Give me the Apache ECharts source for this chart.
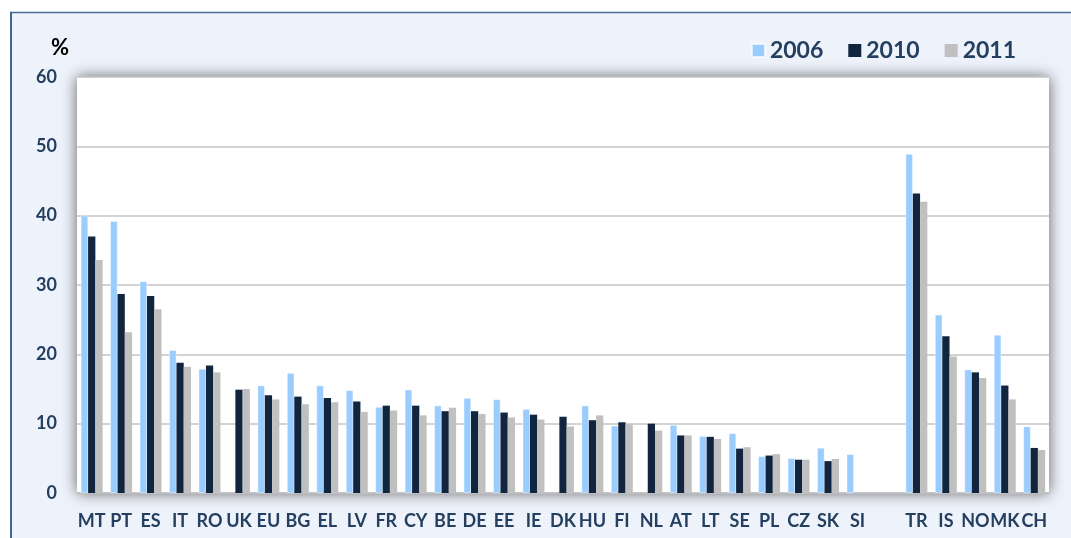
<!DOCTYPE html>
<html>
<head>
<meta charset="utf-8">
<script src="https://cdn.jsdelivr.net/npm/echarts@6/dist/echarts.min.js"></script>
<style>
  html, body { margin: 0; padding: 0; background: #fff; }
  #chart { width: 1071px; height: 538px; }
</style>
</head>
<body>
<div id="chart"></div>
<script>
// countries, with one empty slot between SI and TR
var categories = ['MT', 'PT', 'ES', 'IT', 'RO', 'UK', 'EU', 'BG', 'EL', 'LV', 'FR', 'CY', 'BE', 'DE', 'EE', 'IE', 'DK', 'HU', 'FI', 'NL', 'AT', 'LT', 'SE', 'PL', 'CZ', 'SK', 'SI', '', 'TR', 'IS', 'NO', 'MK', 'CH'];
var years = ['2006', '2010', '2011'];

var values2006 = [40.0, 39.2, 30.5, 20.6, 17.9, null, 15.5, 17.3, 15.5, 14.8, 12.4, 14.9, 12.6, 13.7, 13.5, 12.1, null, 12.6, 9.7, null, 9.8, 8.2, 8.6, 5.3, 5.0, 6.5, 5.6, null, 48.9, 25.7, 17.8, 22.8, 9.6];
var values2010 = [37.0, 28.7, 28.4, 18.8, 18.4, 14.9, 14.1, 13.9, 13.7, 13.2, 12.6, 12.6, 11.8, 11.8, 11.6, 11.3, 11.0, 10.5, 10.2, 10.0, 8.3, 8.1, 6.4, 5.4, 4.8, 4.6, null, null, 43.2, 22.6, 17.4, 15.5, 6.5];
var values2011 = [33.6, 23.2, 26.5, 18.2, 17.4, 15.0, 13.5, 12.8, 13.1, 11.7, 11.9, 11.2, 12.3, 11.4, 10.9, 10.6, 9.6, 11.2, 9.9, 9.0, 8.3, 7.8, 6.6, 5.6, 4.8, 4.9, null, null, 42.0, 19.7, 16.6, 13.5, 6.2];

var colors = ['#99CCFF', '#11253F', '#C0C0C0'];
var textColor = '#243F60';

var myChart = echarts.init(document.getElementById('chart'));

function makeSeries(name, data, idx) {
  return {
    name: name,
    type: 'bar',
    data: data,
    barGap: '0%',
    barCategoryGap: '26%',
    itemStyle: {
      color: colors[idx],
      borderColor: idx === 0 ? 'rgba(255,255,255,0.7)' : 'transparent',
      borderWidth: idx === 0 ? 0.6 : 0
    },
    animation: false
  };
}

var option = {
  animation: false,
  textStyle: { fontFamily: 'Lato' },
  graphic: [
    {
      type: 'rect',
      z: -10,
      shape: { x: 10, y: 12, width: 1061, height: 530 },
      style: { fill: '#EEF2FA' },
      silent: true
    },
    {
      type: 'line',
      z: -5,
      shape: { x1: 10, y1: 12.5, x2: 1071, y2: 12.5 },
      style: { stroke: '#4A6A96', lineWidth: 1.5 },
      silent: true
    },
    {
      type: 'line',
      z: -5,
      shape: { x1: 11, y1: 12, x2: 11, y2: 538 },
      style: { stroke: '#3E6595', lineWidth: 2 },
      silent: true
    }
  ],
  title: {
    text: '%',
    left: 46,
    top: 32,
    textStyle: { fontFamily: 'Lato', fontSize: 22, fontWeight: 'bold', color: '#000' }
  },
  legend: {
    data: years,
    right: 50,
    top: 34,
    icon: 'rect',
    itemWidth: 13,
    itemHeight: 13,
    itemGap: 25,
    textStyle: { fontFamily: 'Lato', fontSize: 23, fontWeight: 'bold', color: textColor }
  },
  grid: {
    show: true,
    left: 77,
    right: 22,
    top: 77,
    bottom: 45,
    backgroundColor: '#fff',
    borderWidth: 0,
    shadowColor: 'rgba(0,0,0,0.6)',
    shadowBlur: 14,
    containLabel: false
  },
  xAxis: {
    type: 'category',
    data: categories,
    axisLine: { show: true, lineStyle: { color: '#BFBFBF', width: 1.5 } },
    axisTick: { show: false },
    axisLabel: {
      interval: 0,
      margin: 19,
      fontFamily: 'Lato',
      fontSize: 18,
      fontWeight: 'bold',
      color: textColor
    }
  },
  yAxis: {
    type: 'value',
    min: 0,
    max: 60,
    interval: 10,
    axisLine: { show: false },
    axisTick: { show: false },
    splitLine: { show: true, lineStyle: { color: '#C4C4C4', width: 1.5 } },
    axisLabel: {
      margin: 20,
      fontFamily: 'Lato',
      fontSize: 18,
      fontWeight: 'bold',
      color: textColor
    }
  },
  series: [
    makeSeries(years[0], values2006, 0),
    makeSeries(years[1], values2010, 1),
    makeSeries(years[2], values2011, 2)
  ]
};

myChart.setOption(option);
</script>
</body>
</html>
